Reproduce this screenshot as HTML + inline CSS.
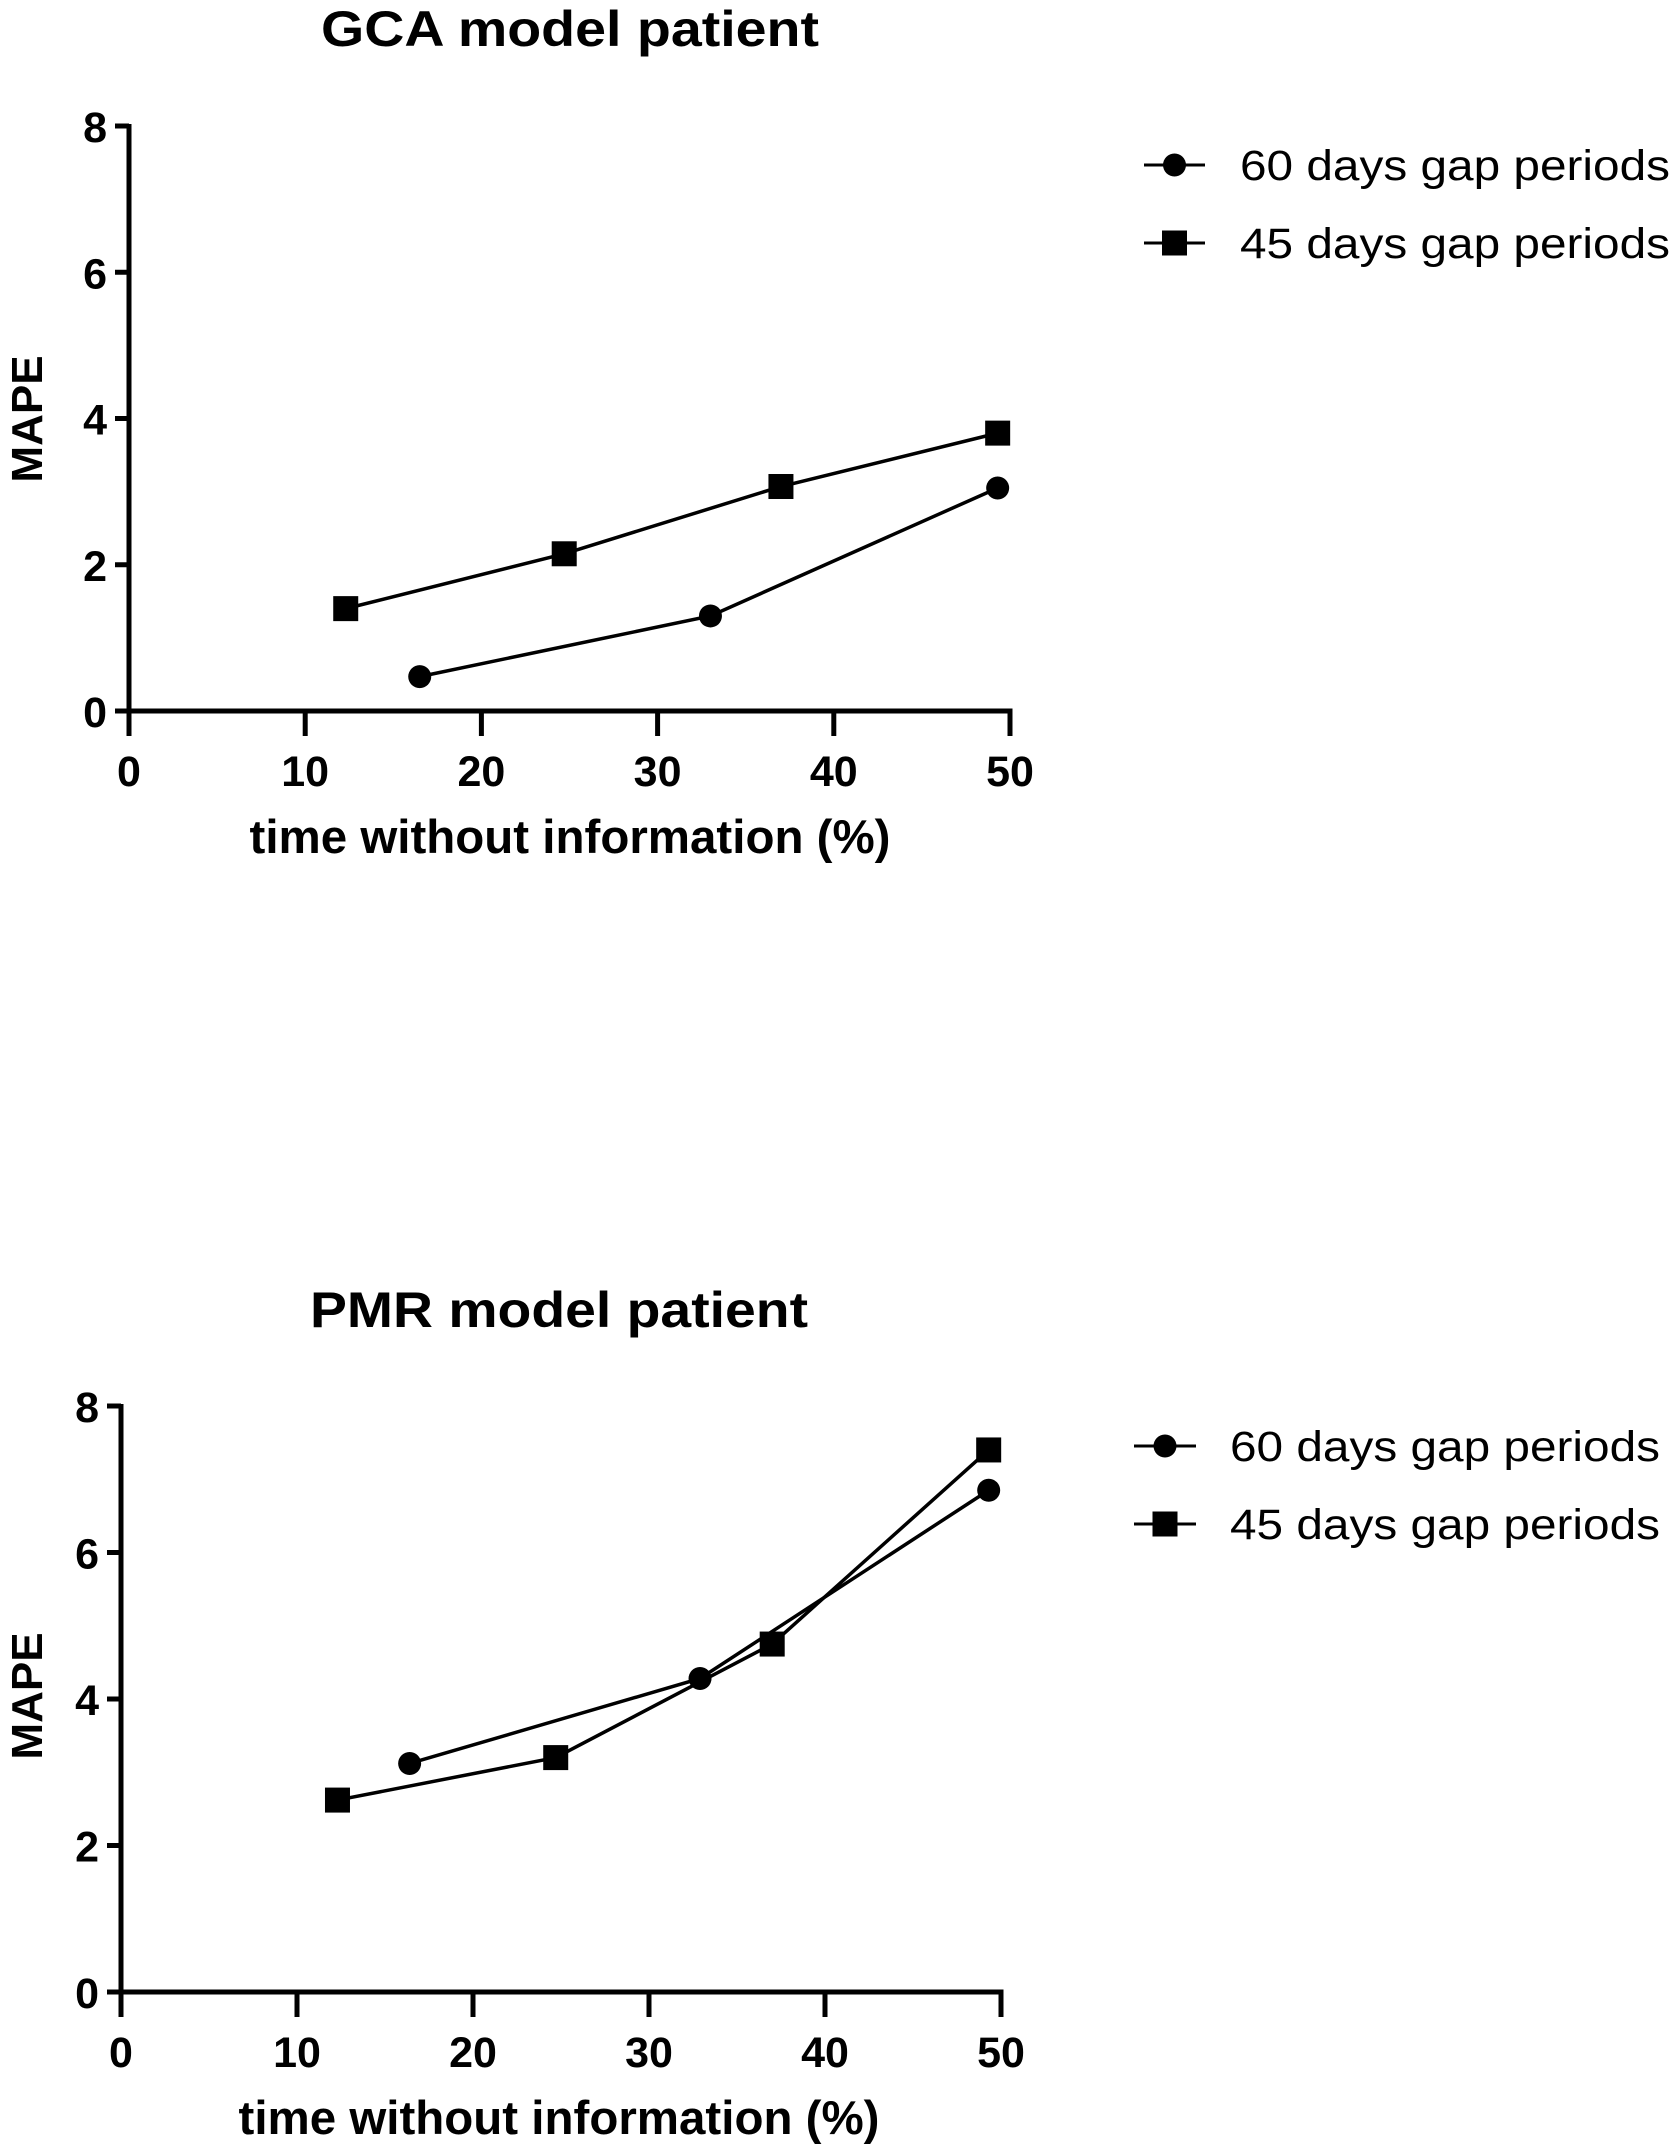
<!DOCTYPE html>
<html><head><meta charset="utf-8"><style>
html,body{margin:0;padding:0;background:#fff;}
svg{display:block;font-family:"Liberation Sans",sans-serif;}
</style></head><body>
<svg id="chart" width="1675" height="2154" viewBox="0 0 1675 2154" xmlns="http://www.w3.org/2000/svg"></svg>
<script>
const xTicks = [0,10,20,30,40,50];
const yTicks = [0,2,4,6,8];
const seriesNames = ["60 days gap periods","45 days gap periods"];
const gcaX60 = [16.5,33,49.3];
const gcaY60 = [0.47,1.3,3.05];
const gcaX45 = [12.3,24.7,37,49.3];
const gcaY45 = [1.4,2.15,3.07,3.8];
const pmrX60 = [16.4,32.9,49.3];
const pmrY60 = [3.12,4.28,6.85];
const pmrX45 = [12.3,24.7,37,49.3];
const pmrY45 = [2.62,3.2,4.75,7.4];

const NS="http://www.w3.org/2000/svg";
const svg=document.getElementById('chart');
function el(tag,attrs,parent){const e=document.createElementNS(NS,tag);for(const k in attrs)e.setAttribute(k,attrs[k]);(parent||svg).appendChild(e);return e;}
function txt(s,attrs,parent){const e=el('text',attrs,parent);e.textContent=s;return e;}

function panel(cfg){
  const g=el('g',{});
  
  
  const sx=v=>cfg.x0+(v-0)/50*(cfg.x50-cfg.x0);
  const sy=v=>cfg.y0-(v/8)*(cfg.y0-cfg.y8);
  const t=txt(cfg.title,{x:cfg.titleX,y:cfg.titleY,'text-anchor':'middle','font-size':50,'font-weight':'bold',textLength:498,lengthAdjust:'spacingAndGlyphs'},g);
  
  
  const ya=el('line',{x1:sx(0),y1:sy(0)+2.5,x2:sx(0),y2:sy(8)-2,stroke:'#000','stroke-width':5},g);
  
  
  const xa=el('line',{x1:sx(0)-14,y1:sy(0),x2:sx(50)+2.5,y2:sy(0),stroke:'#000','stroke-width':5},g);
  
  
  yTicks.forEach(v=>{
    const tk=el('line',{x1:sx(0)-14,y1:sy(v),x2:sx(0),y2:sy(v),stroke:'#000','stroke-width':5},g);
    
    
    const l=txt(String(v),{x:sx(0)-22,y:sy(v)+16,'text-anchor':'end','font-size':43,'font-weight':'bold'},g);
    
    
  });
  xTicks.forEach(v=>{
    const tk=el('line',{x1:sx(v),y1:sy(0),x2:sx(v),y2:sy(0)+25,stroke:'#000','stroke-width':5},g);
    
    
    const l=txt(String(v),{x:sx(v),y:sy(0)+75,'text-anchor':'middle','font-size':43,'font-weight':'bold'},g);
    
    
  });
  const xl=txt('time without information (%)',{x:cfg.xlabX,y:cfg.xlabY,'text-anchor':'middle','font-size':47,'font-weight':'bold',textLength:641,lengthAdjust:'spacingAndGlyphs'},g);
  
  
  const yl=txt('MAPE',{x:0,y:0,'text-anchor':'middle','font-size':44,'font-weight':'bold',transform:`translate(${cfg.ylabX},${cfg.ylabY}) rotate(-90)`},g);
  
  
  function series(xs,ys,shape,name){
    const sg=el('g',{},g);
    
    
    const pts=xs.map((x,i)=>sx(x)+','+sy(ys[i])).join(' ');
    const pl=el('polyline',{points:pts,fill:'none',stroke:'#000','stroke-width':3.5},sg);
    
    
    xs.forEach((x,i)=>{
      let m;
      if(shape==='circle') m=el('circle',{cx:sx(x),cy:sy(ys[i]),r:11.5,fill:'#000'},sg);
      else m=el('rect',{x:sx(x)-12.5,y:sy(ys[i])-12.5,width:25,height:25,fill:'#000'},sg);
      
      
    });
  }
  series(cfg.x60,cfg.y60,'circle','series-60-days');
  series(cfg.x45,cfg.y45,'square','series-45-days');
  const lg=el('g',{},g);
  
  
  [['circle',cfg.legY1,seriesNames[0]],['square',cfg.legY2,seriesNames[1]]].forEach(([sh,y,lab])=>{
    const eg=el('g',{},lg);
    
    
    el('line',{x1:cfg.legX1,y1:y,x2:cfg.legX2,y2:y,stroke:'#000','stroke-width':3},eg);
    const cx=(cfg.legX1+cfg.legX2)/2;
    if(sh==='circle') el('circle',{cx:cx,cy:y,r:11.5,fill:'#000'},eg);
    else el('rect',{x:cx-12.5,y:y-12.5,width:25,height:25,fill:'#000'},eg);
    txt(lab,{x:cfg.legTX,y:y+15,'font-size':43,textLength:430,lengthAdjust:'spacingAndGlyphs'},eg);
  });
}

panel({name:'gca-panel',title:'GCA model patient',titleX:570,titleY:46,
  x0:129,x50:1010,y0:711,y8:126,
  xlabX:570,xlabY:853,ylabX:42,ylabY:419,
  x60:gcaX60,y60:gcaY60,x45:gcaX45,y45:gcaY45,
  legX1:1144,legX2:1205,legY1:165,legY2:243,legTX:1240});
panel({name:'pmr-panel',title:'PMR model patient',titleX:559,titleY:1327,
  x0:121,x50:1001,y0:1992,y8:1406,
  xlabX:559,xlabY:2134,ylabX:42,ylabY:1696,
  x60:pmrX60,y60:pmrY60,x45:pmrX45,y45:pmrY45,
  legX1:1134,legX2:1196,legY1:1446,legY2:1524,legTX:1230});
</script>
</body></html>
